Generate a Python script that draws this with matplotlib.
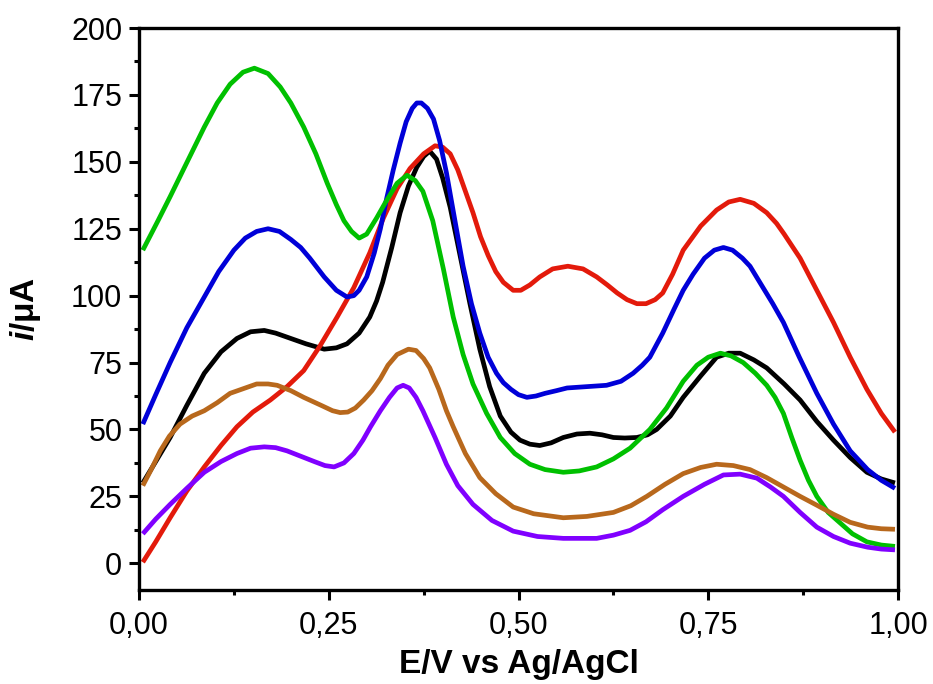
import numpy as np
import matplotlib
matplotlib.use('Agg')
import matplotlib.pyplot as plt
from matplotlib import rcParams
from matplotlib.ticker import MultipleLocator, FuncFormatter

rcParams['font.family'] = ['Liberation Sans', 'DejaVu Sans']
rcParams['mathtext.fontset'] = 'custom'
rcParams['mathtext.rm'] = 'Liberation Sans:bold'
rcParams['mathtext.it'] = 'Liberation Sans:italic:bold'
rcParams['mathtext.bf'] = 'Liberation Sans:bold'

# black
x_k = [0.005, 0.022, 0.041, 0.063, 0.086, 0.108, 0.129, 0.147, 0.165, 0.18, 0.195, 0.22, 0.244, 0.26,
       0.274, 0.29, 0.304, 0.313, 0.321, 0.333, 0.344, 0.355, 0.366, 0.375, 0.383, 0.392, 0.4, 0.41,
       0.423, 0.436, 0.449, 0.462, 0.476, 0.49, 0.502, 0.515, 0.528, 0.543, 0.559, 0.577, 0.594, 0.61,
       0.625, 0.64, 0.656, 0.67, 0.682, 0.7, 0.717, 0.74, 0.761, 0.777, 0.792, 0.81, 0.827, 0.85,
       0.871, 0.893, 0.915, 0.937, 0.959, 0.978, 0.996]
y_k = [30, 38, 47, 59, 71, 79, 84, 86.5, 87, 86, 84.5, 82, 80, 80.5,
       82, 86, 92, 98, 105, 118, 131, 141, 148, 152, 154, 151, 144, 133,
       115, 97, 80, 66, 55, 49, 46, 44.5, 44, 45, 47, 48.3, 48.6, 48,
       47, 46.8, 47, 48, 50, 55, 62, 70, 77, 78.5, 78.5, 76, 73, 67,
       61, 53, 46, 39.5, 34, 31.5, 30]

# red
x_r = [0.005, 0.022, 0.041, 0.063, 0.086, 0.108, 0.129, 0.15, 0.173, 0.195, 0.217, 0.238, 0.261, 0.283,
       0.304, 0.322, 0.34, 0.357, 0.375, 0.39, 0.4, 0.41, 0.42, 0.43, 0.44, 0.45, 0.46, 0.47,
       0.48, 0.493, 0.503, 0.515, 0.528, 0.545, 0.565, 0.585, 0.603, 0.617, 0.63, 0.643, 0.656, 0.668,
       0.68, 0.69, 0.703, 0.717, 0.74, 0.761, 0.777, 0.792, 0.81, 0.827, 0.84, 0.85, 0.871, 0.893,
       0.915, 0.937, 0.959, 0.978, 0.996]
y_r = [0.4, 8, 17, 27, 36, 44, 51, 56.5, 61, 66, 72, 81, 92, 103,
       116, 129, 140, 147.5, 153, 156, 155.5, 153, 147, 139, 131, 122, 115, 109,
       105, 102, 102, 104, 107, 110, 111, 110, 107, 104, 101, 98.5, 97, 97,
       98.5, 101, 108, 117, 126, 132, 135, 136, 134.5, 131, 127, 123, 114, 102,
       90, 77, 65, 56, 49]

# blue
x_b = [0.005, 0.022, 0.041, 0.063, 0.086, 0.105, 0.125, 0.14, 0.155, 0.17, 0.185, 0.2, 0.213, 0.225,
       0.244, 0.26, 0.274, 0.283, 0.29, 0.3, 0.31, 0.318, 0.326, 0.335, 0.344, 0.352, 0.36, 0.366,
       0.372, 0.38, 0.388, 0.396, 0.405, 0.415, 0.427, 0.438, 0.449, 0.46, 0.471, 0.48, 0.49, 0.5,
       0.511, 0.523, 0.535, 0.55, 0.564, 0.59, 0.616, 0.635, 0.651, 0.663, 0.673, 0.69, 0.705, 0.717,
       0.73, 0.745, 0.758, 0.77, 0.782, 0.795, 0.805, 0.82, 0.835, 0.849, 0.87, 0.893, 0.915, 0.937,
       0.96, 0.978, 0.996]
y_b = [52, 63, 75, 88, 99.5, 109, 117, 121.5, 124, 125, 124, 121, 118, 114,
       107, 102, 99.5, 100, 102, 107, 116, 125, 136, 147, 157, 165, 170, 172,
       172, 170, 166, 158, 146, 130, 111, 97, 86, 77, 71, 67.5, 65, 63,
       62, 62.5, 63.5, 64.5, 65.5, 66, 66.5, 68, 71, 74, 77, 86, 95, 102,
       108, 114, 117, 118, 117, 114, 111, 104, 97, 90, 77, 63.5, 52, 42,
       35, 31, 28]

# green
x_g = [0.005, 0.025, 0.041, 0.06, 0.086, 0.103, 0.12, 0.137, 0.152, 0.17, 0.186, 0.2, 0.217, 0.233,
       0.248, 0.26, 0.27, 0.28, 0.29, 0.3, 0.313, 0.325, 0.34, 0.353, 0.364, 0.374, 0.387, 0.401,
       0.414, 0.427, 0.44, 0.458, 0.476, 0.495, 0.515, 0.535, 0.559, 0.58, 0.603, 0.625, 0.647, 0.673,
       0.695, 0.717, 0.735, 0.75, 0.766, 0.78, 0.796, 0.812, 0.827, 0.838, 0.849, 0.86, 0.871, 0.882,
       0.893, 0.908, 0.924, 0.94, 0.959, 0.978, 0.996]
y_g = [117, 128, 137, 148, 163, 172, 179, 183.5, 185, 183, 178, 172, 163, 153,
       142, 134, 128, 124, 121.5, 123, 129, 135, 142, 145, 143, 139, 128, 110,
       92, 78, 67, 56, 47, 41, 37, 35, 34, 34.5, 36, 39, 43, 50,
       58, 68, 74, 77, 78.5, 77.5, 75, 71, 66.5, 62, 56, 47, 38.5, 31,
       25, 19, 15, 11, 8, 6.8, 6.3]

# brown
x_o = [0.005, 0.016, 0.028, 0.04, 0.054, 0.07, 0.086, 0.103, 0.12, 0.14, 0.155, 0.17, 0.182, 0.2,
       0.217, 0.24, 0.255, 0.265, 0.275, 0.285, 0.296, 0.307, 0.318, 0.328, 0.34, 0.355, 0.365, 0.375,
       0.383, 0.395, 0.405, 0.414, 0.43, 0.449, 0.47, 0.493, 0.52, 0.559, 0.59, 0.625, 0.648, 0.669,
       0.693, 0.717, 0.74, 0.761, 0.783, 0.805, 0.827, 0.849, 0.871, 0.893, 0.915, 0.937, 0.96, 0.978,
       0.996]
y_o = [29, 35, 42, 47.5, 52, 55, 57, 60, 63.5, 65.5, 67, 67, 66.5, 64.5,
       62, 59, 57, 56.3, 56.5, 58, 61, 64.5, 69, 74, 78, 80, 79.5, 76.5,
       73, 65, 57, 51, 41, 32, 26, 21, 18.5, 17, 17.5, 19, 21.5, 25,
       29.5, 33.5, 35.8, 37, 36.5, 35, 32, 28.5, 25, 21.7, 18.3, 15.3, 13.5, 12.9,
       12.7]

# purple
x_p = [0.005, 0.022, 0.041, 0.063, 0.086, 0.108, 0.129, 0.147, 0.165, 0.18, 0.195, 0.213, 0.231, 0.245,
       0.257, 0.27, 0.283, 0.295, 0.305, 0.318, 0.33, 0.34, 0.348, 0.356, 0.365, 0.374, 0.39, 0.405,
       0.42, 0.44, 0.465, 0.493, 0.525, 0.559, 0.603, 0.625, 0.647, 0.668, 0.69, 0.717, 0.745, 0.77,
       0.792, 0.814, 0.832, 0.849, 0.871, 0.893, 0.915, 0.937, 0.96, 0.978, 0.996]
y_p = [11, 16.5, 22, 28, 34, 38, 41, 43, 43.5, 43.2, 42, 40, 38, 36.5,
       36, 37.5, 41, 46, 51, 57, 62, 65.5, 66.5, 65.5, 62, 57, 47, 37,
       29, 22, 16, 12, 10, 9.3, 9.3, 10.5, 12.3, 15.5, 20, 25, 29.5, 33,
       33.3, 31.8, 28.5, 25, 19, 13.5, 10, 7.5, 6, 5.3, 5]

fig = plt.figure(figsize=(9.33, 6.84), dpi=100)
ax = fig.add_axes([0.149, 0.1374, 0.8135, 0.8216])

kw = dict(lw=3.4, solid_joinstyle='round', solid_capstyle='butt')
ax.plot(x_k, y_k, color='#000000', **kw)
ax.plot(x_r, y_r, color='#e31a0b', **kw)
ax.plot(x_b, y_b, color='#0000d8', **kw)
ax.plot(x_g, y_g, color='#00c000', **kw)
ax.plot(x_o, y_o, color='#b8681c', **kw)
ax.plot(x_p, y_p, color='#8000ff', **kw)

ax.set_xlim(0, 1)
ax.set_ylim(-10, 200)
ax.xaxis.set_major_locator(MultipleLocator(0.25))
ax.xaxis.set_minor_locator(MultipleLocator(0.125))
ax.yaxis.set_major_locator(MultipleLocator(25))
ax.yaxis.set_minor_locator(MultipleLocator(12.5))
ax.xaxis.set_major_formatter(FuncFormatter(lambda v, p: ('%.2f' % v).replace('.', ',')))

for s in ax.spines.values():
    s.set_linewidth(2.4)
ax.tick_params(which='major', direction='out', length=7, width=2.2, labelsize=22, pad=5)
ax.tick_params(axis='x', which='major', pad=8)
ax.tick_params(which='minor', direction='out', length=3.5, width=2.2)

ax.set_xlabel('E/V vs Ag/AgCl', fontsize=24, fontweight='bold', labelpad=6)
ax.set_ylabel(r'$\mathit{i}$/$\mathrm{\mu}$A', fontsize=24, fontweight='bold', labelpad=20)

fig.savefig('out.png', dpi=100)
